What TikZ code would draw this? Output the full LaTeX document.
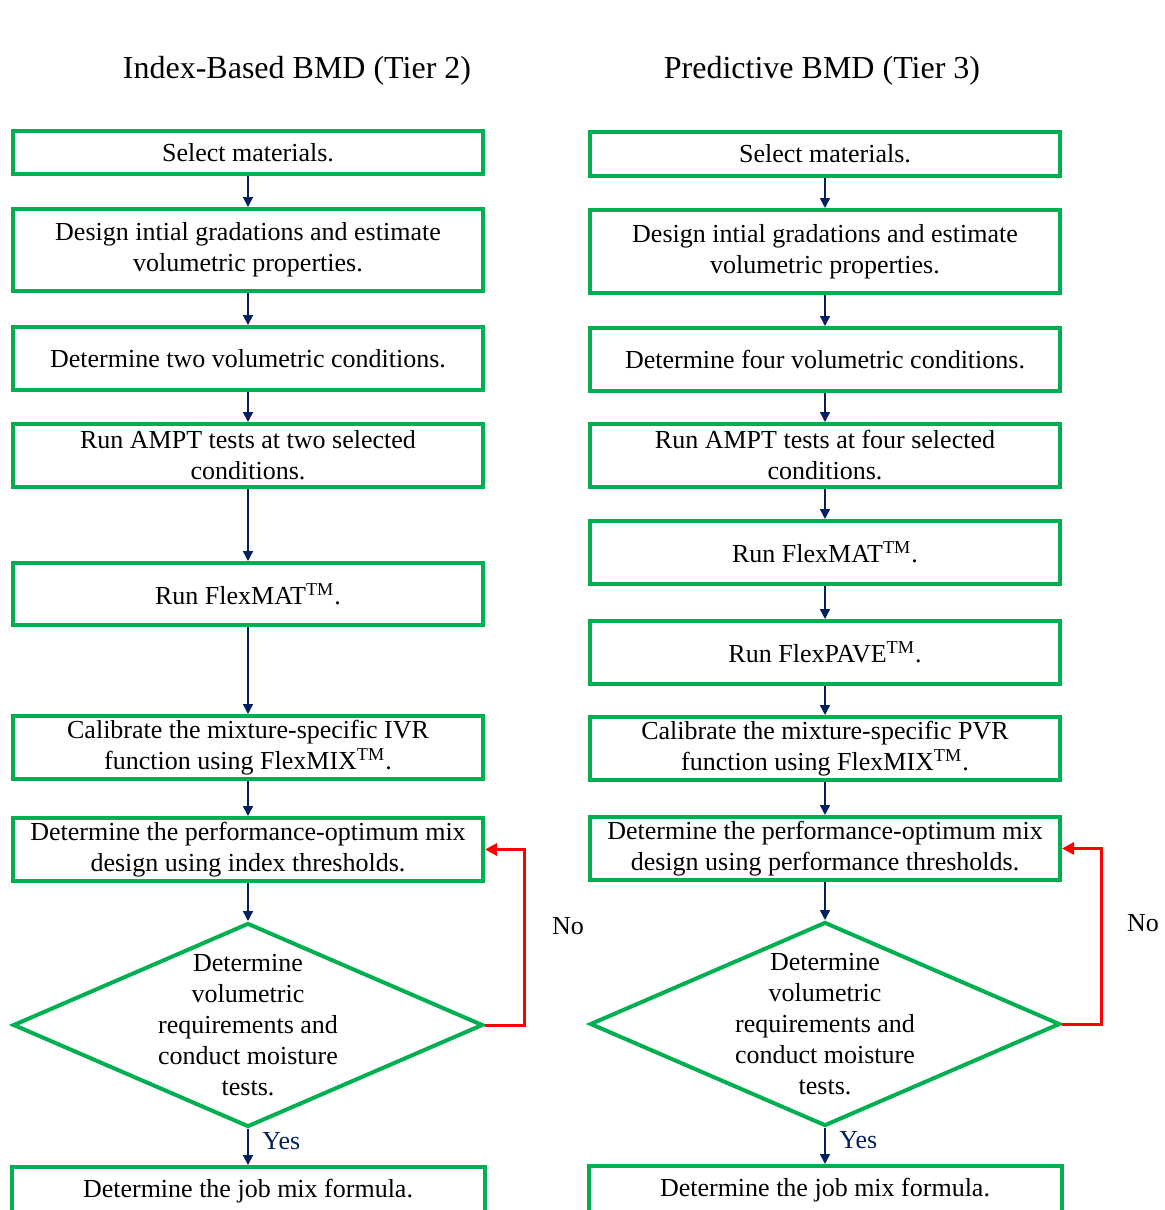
\documentclass[tikz,border=0pt]{standalone}
\usepackage{fontspec}
\setmainfont{Liberation Serif}
\usetikzlibrary{positioning, arrows.meta, shapes.geometric}
\definecolor{VerdeCaja}{RGB}{0,176,80}
\definecolor{AzulFlecha}{RGB}{0,32,96}
\definecolor{RojoLazo}{RGB}{255,0,0}

\begin{document}
\begin{tikzpicture}[
    >={Triangle[length=5pt, width=5pt]}, % punta triangular rellena
    node distance=15.5pt,
    paso/.style={draw=VerdeCaja, line width=2pt, minimum width=235pt, minimum height=31.5pt,
        align=center, inner sep=2pt, font=\fontsize{13}{15.5}\selectfont},
    decision/.style={paso, diamond, aspect=2.3, minimum height=102pt, inner sep=-10pt},
    titulo/.style={font=\fontsize{16}{19}\selectfont},
    flecha/.style={->, draw=AzulFlecha, line width=0.8pt},
    lazo/.style={-{Triangle[length=6pt, width=6pt]}, draw=RojoLazo, line width=1.5pt},
    etiqueta/.style={font=\fontsize{13}{15.5}\selectfont}
]
    % Marco fijo: las cajas del final quedan cortadas abajo
    \useasboundingbox (0,0) rectangle (582pt,-605pt);
    \clip (0,0) rectangle (582pt,-605pt);

    % 1. Columna izquierda (Tier 2)
    \node[paso, minimum height=21.5pt] (i1) at (124pt,-76.25pt) {Select materials.};
    \node[paso, below=of i1, minimum height=41pt] (i2) {Design intial gradations and estimate\\volumetric properties.};
    \node[paso, below=16pt of i2] (i3) {Determine two volumetric conditions.};
    \node[paso, below=15pt of i3] (i4) {Run AMPT tests at two selected\\conditions.};
    \node[paso, below=36pt of i4, minimum height=31pt] (i5) {Run FlexMAT\textsuperscript{TM}.};
    \node[paso, below=43.5pt of i5] (i6) {Calibrate the mixture-specific IVR\\function using FlexMIX\textsuperscript{TM}.};
    \node[paso, below=17.5pt of i6] (i7) {Determine the performance-optimum mix\\design using index thresholds.};
    \node[decision, below=19pt of i7] (i8) {Determine\\volumetric\\requirements and\\conduct moisture\\tests.};
    \node[paso, below=18pt of i8, minimum height=24pt, minimum width=236.5pt] (i9) {Determine the job mix formula.};
    \node[titulo, above=18.5pt of i1, xshift=24.5pt] (tit_i) {Index-Based BMD (Tier 2)};

    % 2. Columna derecha (Tier 3)
    \node[paso, minimum height=22pt] (d1) at (412.5pt,-77pt) {Select materials.};
    \node[paso, below=15pt of d1, minimum height=41.5pt] (d2) {Design intial gradations and estimate\\volumetric properties.};
    \node[paso, below=of d2] (d3) {Determine four volumetric conditions.};
    \node[paso, below=14.5pt of d3] (d4) {Run AMPT tests at four selected\\conditions.};
    \node[paso, below=15pt of d4] (d5) {Run FlexMAT\textsuperscript{TM}.};
    \node[paso, below=16.5pt of d5] (d6) {Run FlexPAVE\textsuperscript{TM}.};
    \node[paso, below=14.5pt of d6] (d7) {Calibrate the mixture-specific PVR\\function using FlexMIX\textsuperscript{TM}.};
    \node[paso, below=16.5pt of d7] (d8) {Determine the performance-optimum mix\\design using performance thresholds.};
    \node[decision, below=19pt of d8] (d9) {Determine\\volumetric\\requirements and\\conduct moisture\\tests.};
    \node[paso, below=18pt of d9, minimum height=24pt, minimum width=236.5pt] (d10) {Determine the job mix formula.};
    \node[titulo, above=19pt of d1, xshift=-1.5pt] (tit_d) {Predictive BMD (Tier 3)};

    % 3. Flechas entre pasos
    \foreach \a/\b in {i1/i2, i2/i3, i3/i4, i4/i5, i5/i6, i6/i7, i7/i8,
                       d1/d2, d2/d3, d3/d4, d4/d5, d5/d6, d6/d7, d7/d8, d8/d9}
        \draw[flecha] (\a) -- (\b);
    \draw[flecha] (i8) -- node[right=3.5pt, yshift=3pt, etiqueta, text=AzulFlecha] (si_i) {Yes} (i9);
    \draw[flecha] (d9) -- node[right=3.5pt, yshift=3pt, etiqueta, text=AzulFlecha] (si_d) {Yes} (d10);

    % 4. Lazos de retorno cuando no se cumple
    \draw[lazo] (i8.east) -- ++(19.5pt,0) |- node[pos=0.25, right=10pt, yshift=5.5pt, etiqueta] (no_i) {No} (i7.east);
    \draw[lazo] (d9.east) -- ++(19.5pt,0) |- node[pos=0.25, right=9pt, yshift=6.5pt, etiqueta] (no_d) {No} (d8.east);

\end{tikzpicture}
\end{document}
